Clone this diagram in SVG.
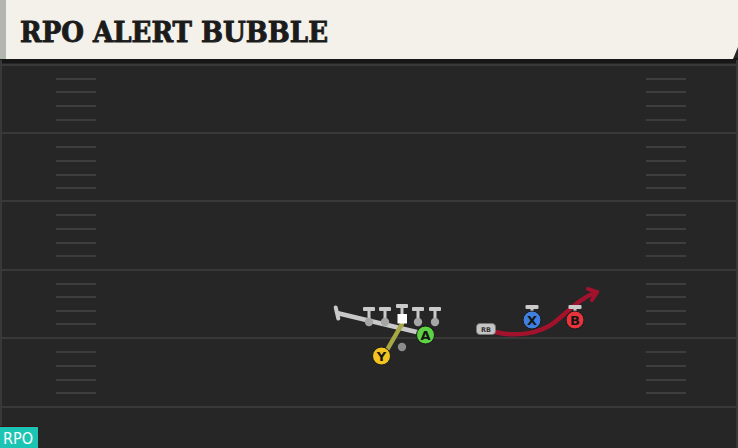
<svg xmlns="http://www.w3.org/2000/svg" width="738" height="448" viewBox="0 0 738 448">
<defs>
<style>
.yard{stroke:#393939;stroke-width:2}
.hash{stroke:#3d3d3d;stroke-width:2}
.lt{fill:#cacaca}
.plr{stroke:#1a1a1a;stroke-width:1}
.lbl{font-family:"DejaVu Sans","Liberation Sans",sans-serif;font-weight:bold;font-size:13px;fill:#161616;text-anchor:middle}
.route{fill:none;stroke-linecap:round;stroke-linejoin:round}
.ttl{font-family:"DejaVu Serif",serif;font-weight:bold;font-size:28px;fill:#1b1b1b;stroke:#1b1b1b;stroke-width:0.9}
</style>
<marker id="chev" markerUnits="userSpaceOnUse" markerWidth="16" markerHeight="16" refX="0" refY="0" viewBox="-10 -8 12 16" orient="auto" overflow="visible">
<path d="M-7.5,-6 L0,0 L-7.5,6" fill="none" stroke="#a3122d" stroke-width="3.8" stroke-linecap="round" stroke-linejoin="round"/>
</marker>
</defs>

<!-- field -->
<rect x="0" y="0" width="738" height="448" fill="#262626"/>
<rect x="0" y="58" width="738" height="5" fill="#161616"/>
<rect x="0" y="60" width="2" height="388" fill="#383838"/>
<rect x="736" y="60" width="2" height="388" fill="#383838"/>
<g id="yardlines">
<line class="yard" x1="0" y1="65" x2="738" y2="65"/>
<line class="yard" x1="0" y1="133" x2="738" y2="133"/>
<line class="yard" x1="0" y1="201" x2="738" y2="201"/>
<line class="yard" x1="0" y1="270" x2="738" y2="270"/>
<line class="yard" x1="0" y1="338" x2="738" y2="338"/>
<line class="yard" x1="0" y1="407" x2="738" y2="407"/>
</g>
<g id="hashes">
<path class="hash" d="M56,79H96M56,92H96M56,106H96M56,120H96M56,147H96M56,161H96M56,175H96M56,188H96M56,215H96M56,229H96M56,243H96M56,256H96M56,284H96M56,297H96M56,311H96M56,324H96M56,352H96M56,366H96M56,380H96M56,393H96"/>
<path class="hash" d="M646,79H686M646,92H686M646,106H686M646,120H686M646,147H686M646,161H686M646,175H686M646,188H686M646,215H686M646,229H686M646,243H686M646,256H686M646,284H686M646,297H686M646,311H686M646,324H686M646,352H686M646,366H686M646,380H686M646,393H686"/>
</g>

<!-- title banner -->
<g id="title">
<polygon points="0,0 738,0 738,47 733,59 0,59" fill="#f4f1ea"/>
<rect x="0" y="0" width="6" height="59" fill="#b3b5b1"/>
<text class="ttl" x="20" y="42" textLength="308" lengthAdjust="spacingAndGlyphs">RPO ALERT BUBBLE</text>
</g>

<!-- connectors -->
<g id="connectors">
<g id="block-A">
<line x1="337" y1="313" x2="425" y2="334" stroke="#c9c9c9" stroke-width="4.5"/>
<line x1="335.7" y1="307.5" x2="338.3" y2="318.5" stroke="#c9c9c9" stroke-width="4" stroke-linecap="round"/>
</g>
<line id="route-Y" x1="387" y1="350" x2="402" y2="324" stroke="#a6a845" stroke-width="4.5" stroke-linecap="round"/>
<path id="route-RB" class="route" d="M495,332 C515,337 540,334 555,322 S580,298 597,292" stroke="#a3122d" stroke-width="4.5" marker-end="url(#chev)"/>
</g>

<!-- offensive line -->
<g id="LT">
<rect class="lt" x="363" y="307" width="12" height="4" rx="1"/>
<rect class="lt" x="367.5" y="309" width="3" height="11"/>
<circle cx="369" cy="322" r="4.2" fill="#a6a6a6"/>
</g>
<g id="LG">
<rect class="lt" x="379" y="307" width="12" height="4" rx="1"/>
<rect class="lt" x="383.5" y="309" width="3" height="11"/>
<circle cx="385" cy="322" r="4.2" fill="#a6a6a6"/>
</g>
<g id="C">
<rect class="lt" x="396" y="304" width="12" height="4" rx="1"/>
<rect class="lt" x="400.5" y="306" width="3" height="9"/>
<rect x="397.5" y="314" width="9.5" height="9.5" fill="#ffffff"/>
</g>
<g id="RG">
<rect class="lt" x="412" y="307" width="12" height="4" rx="1"/>
<rect class="lt" x="416.5" y="309" width="3" height="11"/>
<circle cx="418" cy="322" r="4.2" fill="#a6a6a6"/>
</g>
<g id="RT">
<rect class="lt" x="429" y="307" width="12" height="4" rx="1"/>
<rect class="lt" x="433.5" y="309" width="3" height="11"/>
<circle cx="435" cy="322" r="4.2" fill="#a6a6a6"/>
</g>

<g id="QB">
<circle cx="402" cy="347" r="4.2" fill="#8c8c8c"/>
</g>

<g id="A">
<circle class="plr" cx="425.5" cy="335" r="9" fill="#5fd243"/>
<text class="lbl" x="425.5" y="339.7">A</text>
</g>
<g id="Y">
<circle class="plr" cx="381.5" cy="356" r="9" fill="#f3c420"/>
<text class="lbl" x="381.5" y="360.7">Y</text>
</g>

<g id="RB">
<rect x="476.5" y="323.5" width="19" height="11" rx="3.5" fill="#c4c4c4" stroke="#7a7a7a" stroke-width="0.8"/>
<text x="486" y="331.6" font-family="'DejaVu Sans','Liberation Sans',sans-serif" font-weight="bold" font-size="6.5" fill="#333" text-anchor="middle">RB</text>
</g>

<g id="X">
<rect class="lt" x="525.5" y="305" width="13" height="4" rx="1"/>
<rect class="lt" x="530.5" y="307" width="3" height="5"/>
<circle class="plr" cx="532" cy="320" r="9" fill="#3f7fe0"/>
<text class="lbl" x="532" y="324.7">X</text>
</g>
<g id="B">
<rect class="lt" x="568.5" y="305" width="13" height="4" rx="1"/>
<rect class="lt" x="573.5" y="307" width="3" height="5"/>
<circle class="plr" cx="575" cy="320" r="9" fill="#e8333b"/>
<text class="lbl" x="575" y="324.7">B</text>
</g>

<!-- tag -->
<g id="tag">
<rect x="0" y="426" width="38" height="1.5" fill="#3a1414"/>
<rect x="0" y="427" width="38" height="21" fill="#1cc4b4"/>
<text x="3" y="444" font-family="'DejaVu Sans','Liberation Sans',sans-serif" font-size="15" fill="#ffffff" textLength="30" lengthAdjust="spacingAndGlyphs">RPO</text>
</g>
</svg>
